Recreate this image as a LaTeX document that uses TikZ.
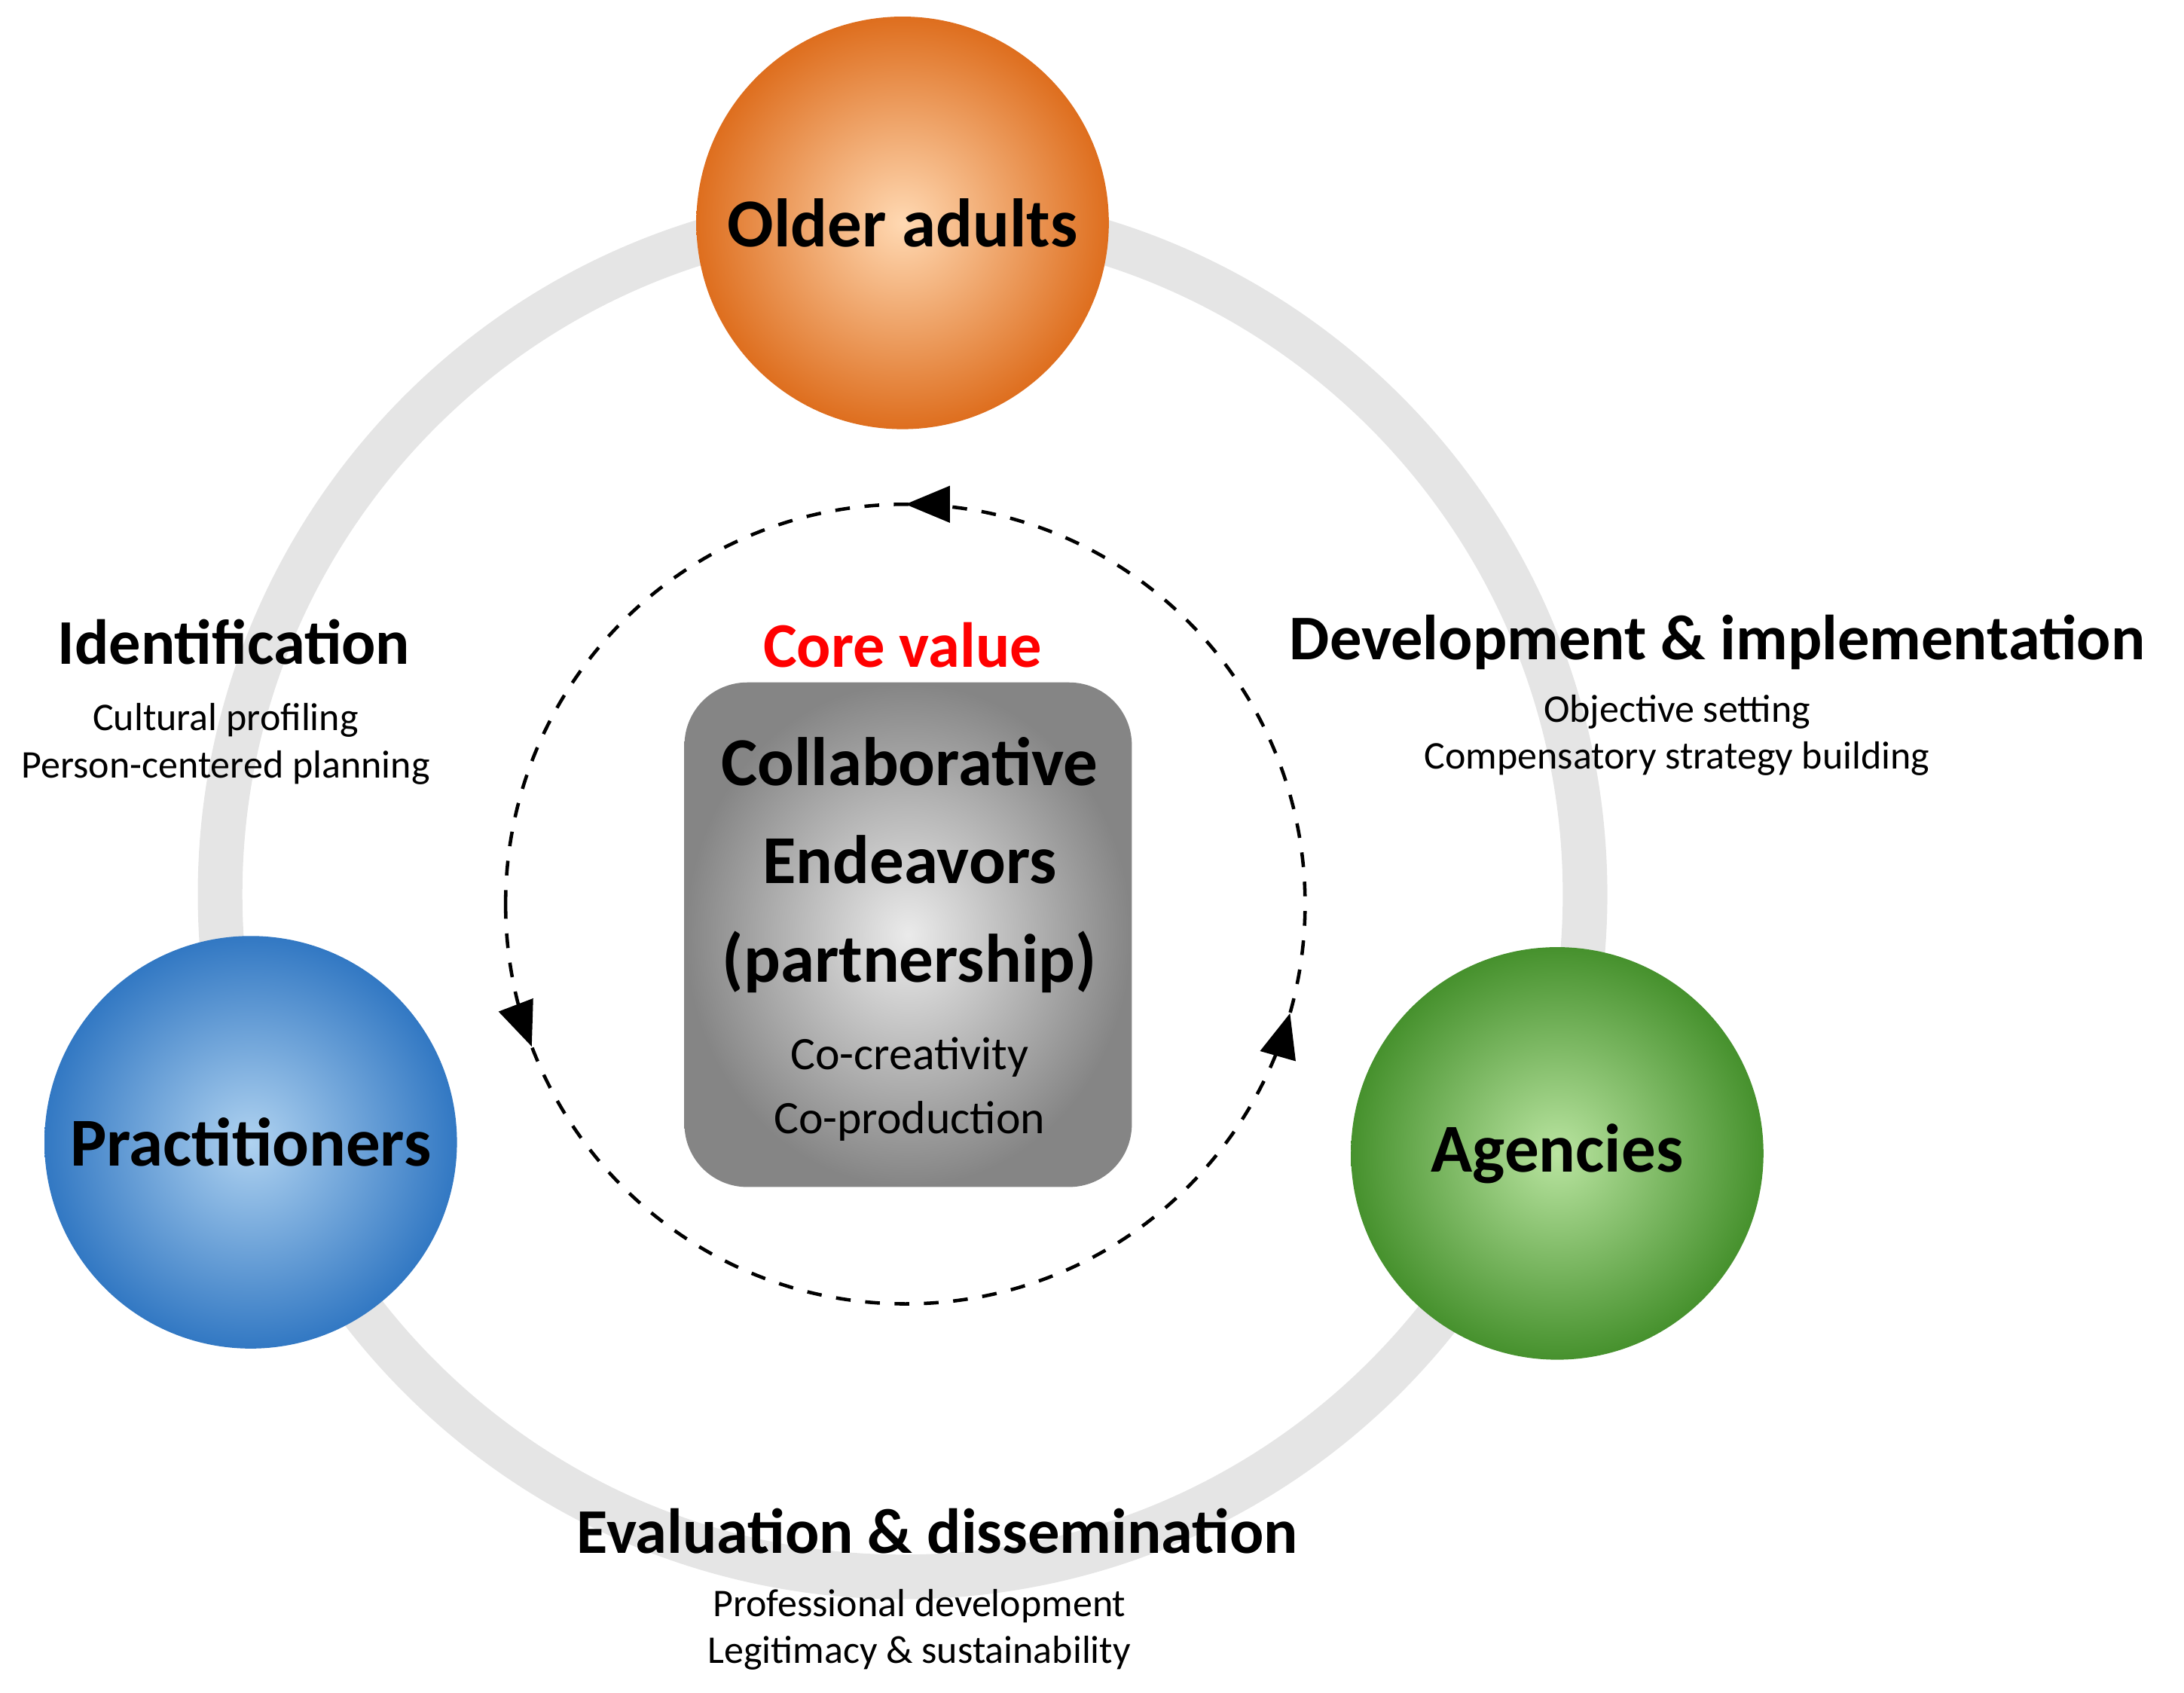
\documentclass[tikz,border=0pt]{standalone}
\usepackage{fontspec}
\setmainfont{Carlito}
\usetikzlibrary{arrows.meta,decorations.markings}
\begin{document}
\begin{tikzpicture}[x=0.01cm,y=-0.01cm,
  ball/.style={circle,minimum size=296\pgflinewidth,inner sep=0pt,font=\bfseries\fontsize{13}{15}\selectfont},
  head/.style={font=\bfseries\fontsize{13}{15}\selectfont},
  small/.style={font=\fontsize{8}{9.6}\selectfont,align=center},
  mk/.style={postaction={decorate},decoration={markings,
    mark=at position 0.058 with {\arrow{Triangle[length=0.32cm,width=0.26cm]}},
    mark=at position 0.456 with {\arrow{Triangle[length=0.32cm,width=0.26cm]}},
    mark=at position 0.75 with {\arrow{Triangle[length=0.32cm,width=0.26cm]}}}}]
\useasboundingbox (0,0) rectangle (1568,1215);
\coordinate (c) at (648,642);
\draw[line width=0.32cm,color=black!10] (c) circle[radius=490];
\coordinate (d) at (650,649);
\draw[dashed,line width=0.7pt,mk] (363,649) arc[start angle=180,end angle=-180,radius=287];
\node[draw=none,rounded corners=0.45cm,minimum width=3.21cm,minimum height=3.62cm,inner color=black!8,outer color=black!48] (box) at (652,671) {};
\node[head,text=red] (cv) at (648,463) {Core value};
\node[align=center,font=\bfseries\fontsize{14}{20}\selectfont] (ce) at (653,621) {Collaborative\\Endeavors\\(partnership)};
\node[small,font=\fontsize{9.5}{13}\selectfont] (co) at (653,782) {Co-creativity\\Co-production};
\node[circle,minimum size=2.96cm,inner sep=0pt,inner color=orange!30,outer color={rgb,255:red,222;green,110;blue,30},font=\bfseries\fontsize{14}{16}\selectfont] (oa) at (648,160) {Older adults};
\node[circle,minimum size=2.96cm,inner sep=0pt,inner color={rgb,255:red,175;green,210;blue,240},outer color={rgb,255:red,50;green,120;blue,195},font=\bfseries\fontsize{14}{16}\selectfont] (pr) at (180,820) {Practitioners};
\node[circle,minimum size=2.96cm,inner sep=0pt,inner color={rgb,255:red,185;green,228;blue,160},outer color={rgb,255:red,70;green,145;blue,45},font=\bfseries\fontsize{14}{16}\selectfont] (ag) at (1118,828) {Agencies};
\node[head] (id) at (168,461) {Identification};
\node[small] (ids) at (162,534) {Cultural profiling\\Person-centered planning};
\node[head] (dv) at (1233,461) {Development \& implementation};
\node[small] (dvs) at (1204,528) {Objective setting\\Compensatory strategy building};
\node[head] (ev) at (673,1099) {Evaluation \& dissemination};
\node[small] (evs) at (660,1170) {Professional development\\Legitimacy \& sustainability};
\end{tikzpicture}
\end{document}
